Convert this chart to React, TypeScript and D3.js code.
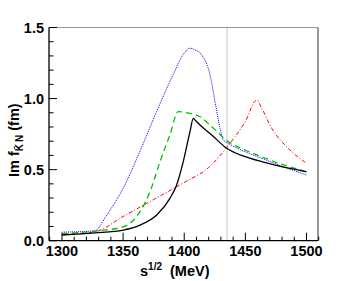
import React from "react";
import * as d3 from "d3";

const xTicksMajor = [1300, 1350, 1400, 1450, 1500];
const yTicksMajor = [0, 0.5, 1.0, 1.5];
const yTickLabels = ["0.0", "0.5", "1.0", "1.5"];
const thresholdX = 1435;

const blueX = [1300, 1327, 1336.6, 1350.1, 1363.8, 1377.5, 1391.0, 1399.2, 1404.7, 1408.8, 1414.3, 1421.1, 1425.2, 1429.3, 1431.9, 1436.0, 1449.7, 1463.4, 1477.0, 1500.0];
const blueY = [0.06, 0.07, 0.18, 0.37, 0.63, 0.91, 1.17, 1.31, 1.354, 1.342, 1.307, 1.166, 0.978, 0.791, 0.709, 0.685, 0.626, 0.58, 0.533, 0.462];

const greenX = [1300, 1330, 1350.1, 1363.8, 1372, 1380.2, 1388.3, 1395.1, 1402, 1412.9, 1422.5, 1436, 1449.7, 1463.4, 1477, 1490.6, 1500];
const greenY = [0.05, 0.07, 0.098, 0.204, 0.345, 0.556, 0.744, 0.908, 0.9, 0.872, 0.802, 0.697, 0.638, 0.591, 0.545, 0.509, 0.485];

const blackX = [1300, 1327, 1350.1, 1363.8, 1377.5, 1388.3, 1393.8, 1399.2, 1404.7, 1407.4, 1408.8, 1412.9, 1422.5, 1434.7, 1449.7, 1463.4, 1477, 1500];
const blackY = [0.04, 0.055, 0.075, 0.11, 0.181, 0.298, 0.392, 0.556, 0.767, 0.861, 0.849, 0.814, 0.744, 0.65, 0.591, 0.556, 0.526, 0.485];

const redX = [1300, 1327, 1350, 1375, 1400, 1420, 1436, 1450, 1459.3, 1463.4, 1471.5, 1482.4, 1500];
const redY = [0.045, 0.063, 0.17, 0.29, 0.41, 0.515, 0.67, 0.84, 0.99, 0.932, 0.791, 0.673, 0.545];

export default function App() {
  const left = 49, right = 318, top = 27.5, bottom = 240.7;
  const x = d3.scaleLinear().domain([1289.4, 1509.4]).range([left, right]);
  const y = d3.scaleLinear().domain([0, 1.5]).range([bottom, top]);

  const line = d3
    .line<[number, number]>()
    .x((d) => x(d[0]))
    .y((d) => y(d[1]))
    .curve(d3.curveMonotoneX);

  const mk = (xs: number[], ys: number[]) => line(xs.map((v, i) => [v, ys[i]] as [number, number])) || "";

  const xMinor = d3.range(1290, 1511, 10);
  const yMinor = d3.range(0, 1.501, 0.1);
  const font = "'Liberation Sans', Arial, sans-serif";

  return (
    <div style={{ position: "absolute", left: 0, top: 0 }}>
      <svg width={354} height={281} style={{ display: "block" }}>
        <rect width={354} height={281} fill="#fff" />
        <line x1={x(thresholdX)} x2={x(thresholdX)} y1={top} y2={bottom} stroke="#c8c8c8" strokeWidth={1} />
        <line x1={left} x2={right} y1={top} y2={top} stroke="#999" strokeWidth={1.2} />
        <line x1={right} x2={right} y1={top} y2={bottom} stroke="#555" strokeWidth={1.2} />
        <line x1={left} x2={right} y1={bottom} y2={bottom} stroke="#000" strokeWidth={1.3} />
        <line x1={left} x2={left} y1={top} y2={bottom} stroke="#000" strokeWidth={1.3} />
        {xMinor.map((t) => {
          const major = xTicksMajor.includes(Math.round(t));
          return (
            <line key={"xt" + t} x1={x(t)} x2={x(t)} y1={bottom} y2={bottom - (major ? 8 : 4)} stroke="#000" strokeWidth={1} />
          );
        })}
        {xTicksMajor.map((t) => (
          <text key={"xl" + t} x={x(t)} y={256} textAnchor="middle" fontFamily={font} fontWeight="bold" fontSize={14.5} fill="#000">
            {t}
          </text>
        ))}
        {yMinor.map((t, i) => {
          const major = i % 5 === 0;
          return (
            <line key={"yt" + i} x1={left} x2={left + (major ? 8 : 4.5)} y1={y(t)} y2={y(t)} stroke="#000" strokeWidth={1} />
          );
        })}
        {yTicksMajor.map((t, i) => (
          <text key={"yl" + t} x={44} y={y(t) + 5} textAnchor="end" fontFamily={font} fontWeight="bold" fontSize={14.5} fill="#000">
            {yTickLabels[i]}
          </text>
        ))}
        <path d={mk(redX, redY)} fill="none" stroke="#ff0000" strokeWidth={1} strokeDasharray="4,2,1,2" />
        <path d={mk(blueX, blueY)} fill="none" stroke="#0000ff" strokeWidth={1} strokeDasharray="1,1" />
        <path d={mk(greenX, greenY)} fill="none" stroke="#00c000" strokeWidth={1.3} strokeDasharray="6,4" />
        <path d={mk(blackX, blackY)} fill="none" stroke="#000" strokeWidth={1.3} />
        <text x={140} y={276} fontFamily={font} fontWeight="bold" fontSize={14.5} fill="#000">
          s<tspan dy={-6} fontSize={10}>1/2</tspan>
          <tspan dy={6}>{"\u00a0\u00a0(MeV)"}</tspan>
        </text>
        <text transform="translate(19,177) rotate(-90)" fontFamily={font} fontWeight="bold" fontSize={14.5} fill="#000">
          Im f<tspan dy={4} fontSize={10}>{"K\u0304\u2009N"}</tspan>
          <tspan dy={-4}>{"\u00a0(fm)"}</tspan>
        </text>
      </svg>
    </div>
  );
}
